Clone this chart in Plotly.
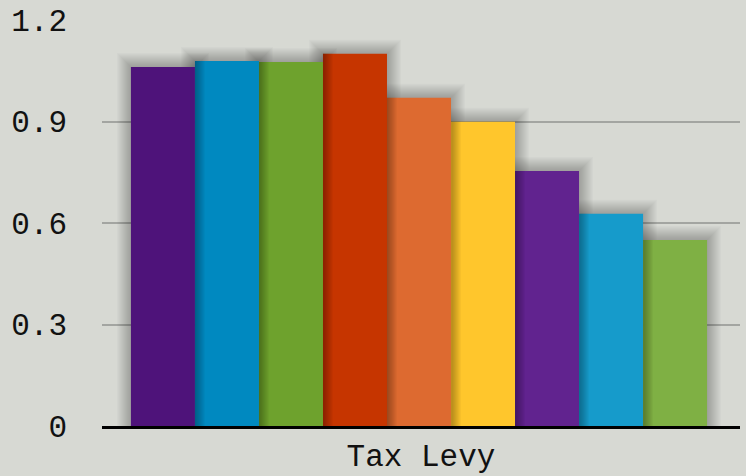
import plotly.graph_objects as go

categories = ["Tax Levy"]
series_names = ["S1", "S2", "S3", "S4", "S5", "S6", "S7", "S8", "S9"]
values = [1.061, 1.079, 1.076, 1.10, 0.970, 0.899, 0.754, 0.627, 0.550]
colors = ["#4e137a", "#0089c0", "#6ea22d", "#c63500", "#dd6a30",
          "#ffc62c", "#61238f", "#169bcb", "#7fb044"]
y_ticks = [0, 0.3, 0.6, 0.9, 1.2]
y_tick_labels = ["0", "0.3", "0.6", "0.9", "1.2"]

W, H = 746, 476
ML, MR, MT, MB = 102, 6, 20, 50
plot_w = W - ML - MR
plot_h = H - MT - MB
px_x = 1.0 / plot_w
px_y = 1.2 / plot_h

n = len(values)
group_w = 0.903
bw = group_w / n
start = -group_w / 2 - 2 * px_x

fig = go.Figure()
# soft outer shadows (blur halo)
for g in range(14, 0, -1):
    for i, v in enumerate(values):
        fig.add_trace(go.Bar(
            x=categories, y=[v + g * px_y], base=0,
            width=bw + 2 * g * px_x, offset=start + i * bw - g * px_x,
            marker=dict(color="rgba(40,40,40,0.022)", line=dict(width=0)),
            hoverinfo="skip", showlegend=False))
# main bars
for i, (name, v, c) in enumerate(zip(series_names, values, colors)):
    fig.add_trace(go.Bar(
        x=categories, y=[v], name=name, width=bw, offset=start + i * bw,
        marker=dict(color=c, line=dict(width=0)), showlegend=False))
# inner shading at left edge of each following bar
for g in range(10, 0, -1):
    for i, v in enumerate(values):
        if i == 0:
            continue
        fig.add_trace(go.Bar(
            x=categories, y=[v], base=0,
            width=g * px_x, offset=start + i * bw,
            marker=dict(color="rgba(0,0,0,0.03)", line=dict(width=0)),
            hoverinfo="skip", showlegend=False))

fig.update_layout(
    width=W, height=H,
    paper_bgcolor="#d7d9d3", plot_bgcolor="#d7d9d3",
    margin=dict(l=ML, r=MR, t=MT, b=MB),
    barmode="overlay",
    hovermode=False,
    font=dict(family="Liberation Mono, Courier New, monospace", size=31, color="#111111"),
    xaxis=dict(showgrid=False, showline=True, linecolor="#000000", linewidth=3,
               ticks="", tickfont=dict(size=31), automargin=False),
    yaxis=dict(range=[0, 1.2], tickvals=y_ticks, ticktext=y_tick_labels,
               showgrid=True, gridcolor="#a3a5a1", gridwidth=2,
               zeroline=False, showline=False, ticks="",
               ticklabelstandoff=34, tickfont=dict(size=31), automargin=False),
)

fig.write_html("out.html", config={"displayModeBar": False},
               post_script="document.body.style.margin='0';document.body.style.background='#d7d9d3';")
